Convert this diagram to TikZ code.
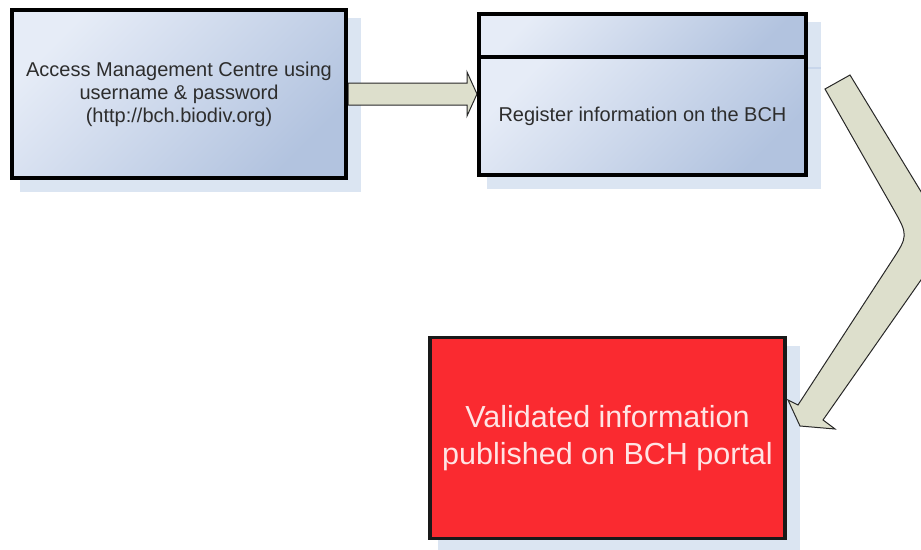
\documentclass[tikz,border=0pt]{standalone}
\usepackage{fontspec}
\setmainfont{Liberation Sans}
\usetikzlibrary{positioning,calc,backgrounds}

\definecolor{boxlight}{RGB}{230,236,247}
\definecolor{boxdark}{RGB}{178,195,223}
\definecolor{shadowblue}{RGB}{219,229,242}
\definecolor{shadowline}{RGB}{200,214,235}
\definecolor{arrowfill}{RGB}{221,223,204}
\definecolor{arrowline}{RGB}{40,40,40}
\definecolor{portalred}{RGB}{250,42,48}
\definecolor{portaltext}{RGB}{255,228,228}
\definecolor{textgray}{RGB}{45,45,45}

\tikzset{
  bluebox/.style={draw=black, line width=4pt, shading=axis, top color=boxlight,
    bottom color=boxdark, shading angle=45, text=textgray, align=center,
    font=\fontsize{20}{23}\selectfont},
  redbox/.style={draw=black!90, line width=3.5pt, fill=portalred, text=portaltext,
    align=center, font=\fontsize{30.5}{37}\selectfont},
  blockarrow/.style={draw=arrowline, fill=arrowfill, line width=1pt, line join=miter}
}

\begin{document}
\begin{tikzpicture}[x=1pt,y=-1pt]
\clip (0,0) rectangle (921,549);

% draw boxes
\node[bluebox, minimum width=334pt, minimum height=168pt] (access) at (179,94)
  {Access Management Centre using\\username \& password\\(http://bch.biodiv.org)};
\node[bluebox, minimum width=327pt, minimum height=43pt] (regtop) at (642.5,35.5) {};
\node[bluebox, minimum width=327pt, minimum height=118pt, below=-4pt of regtop] (register)
  {Register information on the BCH};
\node[redbox, minimum width=355pt, minimum height=201pt] (portal) at (607.5,438)
  {Validated information\\published on BCH portal};

\begin{scope}[on background layer]
% draw shadows
\foreach \n in {access,regtop,register,portal}
\fill[shadowblue] ([shift={(10,10)}]\n.north west) rectangle ([shift={(13,12)}]\n.south east);
\draw[shadowline, line width=2pt] ([shift={(0,9)}]regtop.south east) -- ++(13,0);

% draw arrows
\coordinate (tip1) at (access.east -| register.west);
\draw[blockarrow] ($(access.east)+(0,-11)$) -| ($(tip1)+(-10,-22)$) -- (tip1)
  -- ($(tip1)+(-10,22)$) |- ($(access.east)+(0,11)$) -- cycle;

\coordinate (tailR) at (850,75);
\coordinate (tailL) at (825,89);
\coordinate (bendR) at (949.6,238.6);
\coordinate (bendL) at (908.4,235.5);
\coordinate (tip2) at (800,426);
\draw[blockarrow] (tailR) -- (928.8,204.4) .. controls (bendR) .. (926.9,271.5)
  -- (823,420) -- (835,429) -- (tip2) -- (788,400) -- (798,405)
  -- (890.9,262.3) .. controls (bendL) .. (892.6,207.7) -- (tailL) -- cycle;
\end{scope}

\end{tikzpicture}
\end{document}
